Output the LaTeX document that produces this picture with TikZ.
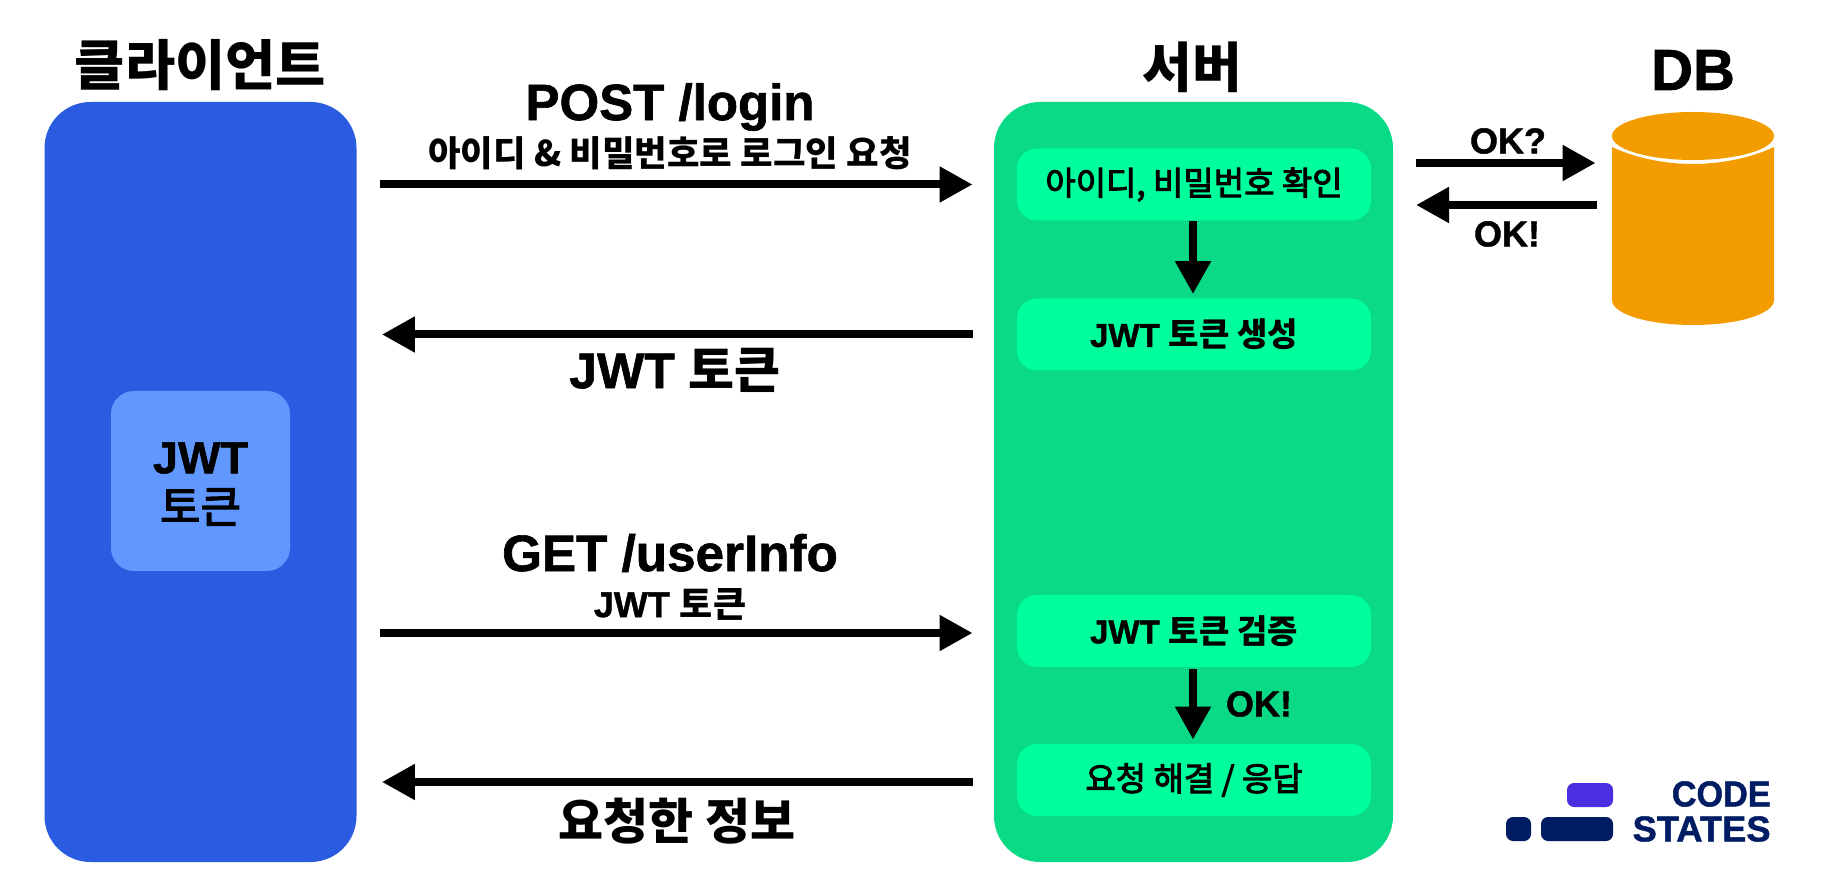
\documentclass[tikz,border=0pt]{standalone}
\usepackage{fontspec}
\setmainfont{Liberation Sans}[BoldFeatures={FakeBold=1.2}]
\newfontfamily\kr{Noto Sans CJK KR}
\newfontfamily\krm{Noto Sans CJK KR}[UprightFeatures={FakeBold=3}]
\usetikzlibrary{arrows.meta}
\newcommand{\K}[1]{{\kr #1}}
\newcommand{\M}[1]{{\krm\mdseries #1}}
\newcommand{\fsz}[1]{\fontsize{#1}{#1}\selectfont\bfseries}
\definecolor{cblue}{HTML}{295CE0}
\definecolor{ctoken}{HTML}{6098FF}
\definecolor{cgreen}{HTML}{0AD986}
\definecolor{cinner}{HTML}{00FF9C}
\definecolor{corange}{HTML}{F39C00}
\definecolor{cnavy}{HTML}{001C63}
\definecolor{cpurple}{HTML}{4A2FE0}
\tikzset{
  x=0.5pt,y=-0.5pt,
  lbl/.style={inner sep=0pt,text=black,align=center},
  panel/.style={fill=#1,draw=none,rounded corners=23pt,inner sep=0pt},
  stepbox/.style={fill=cinner,draw=none,rounded corners=10pt,inner sep=0pt,minimum width=177pt,minimum height=36pt,font=\fsz{16.5}},
  arw/.style={line width=4pt,-{Triangle[length=16.5pt,width=17pt]}},
  rflow/.style={arw,shorten <=11.5pt,shorten >=10.5pt},
  lflow/.style={arw,shorten <=10.5pt,shorten >=12.5pt},
  logobar/.style={fill=#1,draw=none,rounded corners=3.5pt,inner sep=0pt,minimum height=12pt},
}
\begin{document}
\begin{tikzpicture}
\useasboundingbox (0,0) rectangle (1836,876);
\fill[white] (0,0) rectangle (1836,876);
% panels
\node[panel=cblue,minimum width=156pt,minimum height=380pt] (client) at (200.5,482) {};
\node[panel=cgreen,minimum width=199.5pt,minimum height=380pt] (server) at (1193.5,482) {};
\node[panel=ctoken,rounded corners=11.5pt,minimum width=89.5pt,minimum height=90pt] (token) at (200.5,481) {};
\node[lbl,font=\fsz{22.5}] (tokentext1) at (200.5,458) {JWT};
\node[lbl,font=\fsz{22}] (tokentext2) at (200.5,507) {\M{토큰}};
% server steps
\node[stepbox] (s1) at (1194,184.5) {\M{아이디, 비밀번호 확인}};
\node[stepbox] (s2) at (1194,334.5) {JWT \K{토큰 생성}};
\node[stepbox] (s3) at (1194,631) {JWT \K{토큰 검증}};
\node[stepbox] (s4) at (1194,780) {\M{요청 해결 / 응답}};
% headings
\node[lbl,font=\fsz{27.3}] (h1) at (200.5,65) {\K{클라이언트}};
\node[lbl,font=\fsz{27}] (h2) at (1192,67) {\K{서버}};
\node[lbl,font=\fsz{29}] (h3) at (1693,70) {DB};
% flow labels
\node[lbl,font=\fsz{25.5}] (l1) at (670,107) {POST /login};
\node[lbl,font=\fsz{17.7}] (l2) at (670,153) {\K{아이디 \& 비밀번호로 로그인 요청}};
\node[lbl,font=\fsz{25}] (l3) at (675,370) {JWT \K{토큰}};
\node[lbl,font=\fsz{25.6}] (l4) at (670,553) {GET /userInfo};
\node[lbl,font=\fsz{18}] (l5) at (670,604) {JWT \K{토큰}};
\node[lbl,font=\fsz{24.5}] (l6) at (677,821) {\K{요청한 정보}};
\node[lbl,font=\fsz{18}] (ok1) at (1508,141) {OK?};
\node[lbl,font=\fsz{18}] (ok2) at (1507,234) {OK!};
\node[lbl,font=\fsz{18}] (ok3) at (1259,704) {OK!};
% DB cylinder
\fill[corange] (1612,147) .. controls (1635,158) and (1665,164) .. (1693,164)
  .. controls (1721,164) and (1751,158) .. (1774,147)
  -- (1774,300) .. controls (1774,314) and (1738,325) .. (1693,325)
  .. controls (1648,325) and (1612,314) .. (1612,300) -- cycle;
\fill[corange] (1693,136) ellipse [x radius=81,y radius=24];
\node[minimum width=81pt,minimum height=106pt,inner sep=0pt] (db) at (1693,218.5) {};
% arrows
\coordinate (a3) at (0,633);
\coordinate (a4) at (0,782);
\draw[rflow] (client.east |- s1) -- (server.west |- s1);
\draw[lflow] (server.west |- s2) -- (client.east |- s2);
\draw[rflow] (client.east |- a3) -- (server.west |- a3);
\draw[lflow] (server.west |- a4) -- (client.east |- a4);
\coordinate (d1) at ([xshift=-0.5pt]s1.south);
\coordinate (d2) at ([xshift=-0.5pt]s3.south);
\draw[arw,shorten >=2pt] (d1) -- (d1 |- s2.north);
\draw[arw,shorten <=1pt,shorten >=2pt] (d2) -- (d2 |- s4.north);
\coordinate (xa) at (1416,163);
\coordinate (xb) at (1416,205);
\draw[arw,shorten >=8pt] (xa) -- (db.west |- xa);
\draw[arw,shorten <=7.5pt] (db.west |- xb) -- (xb);
% logo
\node[logobar=cpurple,minimum width=23pt] (lg1) at (1590,795) {};
\node[logobar=cnavy,minimum width=12.5pt] (lg2) at (1518.5,829) {};
\node[logobar=cnavy,minimum width=36pt] (lg3) at (1577,829) {};
\node[lbl,text=cnavy,font=\fsz{18},anchor=east,xscale=0.95] (lg4) at (1771,794) {CODE};
\node[lbl,text=cnavy,font=\fsz{18},anchor=east,xscale=1.01] (lg5) at (1771,829) {STATES};
\end{tikzpicture}
\end{document}
